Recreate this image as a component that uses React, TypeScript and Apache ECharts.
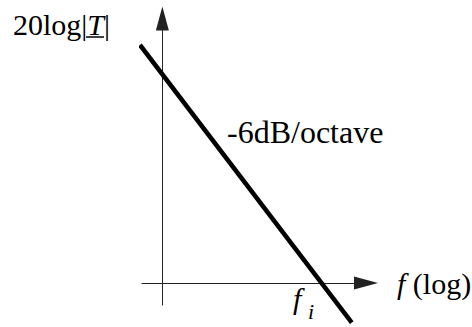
import React, { useEffect, useRef } from "react";
import * as echarts from "echarts";

// Asymptote of |T| in dB versus log frequency (x: octaves, y: 6 dB steps)
const asymptoteX = [-1.1, 9.3];
const asymptoteY = [10.8, -1.8];

const xRange = [-1, 10];
const yRange = [-1, 12];

const yAxisTitle = ["20log|", "T", "|"];
const slopeLabel = "-6dB/octave";
const xAxisTitle = ["f", " (log)"];
const cornerLabel = ["f", "i"];

const SERIF = "Liberation Serif";

const serif = (size: number, italic = false) => ({
  fontFamily: SERIF,
  fontSize: size,
  fontStyle: italic ? "italic" : "normal",
  fill: "#000",
});

export default function App() {
  const ref = useRef<HTMLDivElement>(null);

  useEffect(() => {
    if (!ref.current) return;
    const chart = echarts.init(ref.current, null, { renderer: "svg" });

    const axisLine = {
      show: true,
      onZero: true,
      symbol: ["none", "triangle"],
      symbolSize: [13, 24],
      lineStyle: { color: "#222", width: 1 },
    };

    chart.setOption({
      animation: false,
      backgroundColor: "#fff",
      grid: { left: 142, right: 106, top: 18.5, bottom: 22 },
      xAxis: {
        type: "value",
        min: xRange[0],
        max: xRange[1],
        axisLine,
        axisTick: { show: false },
        axisLabel: { show: false },
        splitLine: { show: false },
      },
      yAxis: {
        type: "value",
        min: yRange[0],
        max: yRange[1],
        axisLine,
        axisTick: { show: false },
        axisLabel: { show: false },
        splitLine: { show: false },
      },
      series: [
        {
          type: "line",
          data: asymptoteX.map((x, i) => [x, asymptoteY[i]]),
          symbol: "none",
          clip: false,
          silent: true,
          lineStyle: { color: "#000", width: 4.5, cap: "butt" },
        },
      ],
      graphic: [
        {
          type: "text",
          x: 13,
          y: 24,
          style: {
            text: `{n|${yAxisTitle[0]}}{t|${yAxisTitle[1]}}{n|${yAxisTitle[2]}}`,
            verticalAlign: "middle",
            ...serif(30),
            rich: {
              n: serif(30),
              t: serif(30, true),
            },
          },
        },
        {
          type: "line",
          shape: { x1: 86, y1: 37, x2: 104, y2: 37 },
          style: { stroke: "#000", lineWidth: 1.5 },
        },
        {
          type: "text",
          x: 227,
          y: 131.5,
          style: {
            text: slopeLabel,
            verticalAlign: "middle",
            ...serif(32),
          },
        },
        {
          type: "text",
          x: 397,
          y: 283,
          style: {
            text: `{i|${xAxisTitle[0]}}{n|${xAxisTitle[1]}}`,
            verticalAlign: "middle",
            ...serif(30),
            rich: {
              i: serif(30, true),
              n: serif(30),
            },
          },
        },
        {
          type: "text",
          x: 293,
          y: 298,
          style: {
            text: cornerLabel[0],
            verticalAlign: "middle",
            ...serif(30, true),
          },
        },
        {
          type: "text",
          x: 308,
          y: 311,
          style: {
            text: cornerLabel[1],
            verticalAlign: "middle",
            ...serif(22, true),
          },
        },
      ],
    });

    return () => chart.dispose();
  }, []);

  return (
    <div
      ref={ref}
      style={{
        position: "fixed",
        left: 0,
        top: 0,
        width: 472,
        height: 327,
        background: "#fff",
      }}
    />
  );
}
